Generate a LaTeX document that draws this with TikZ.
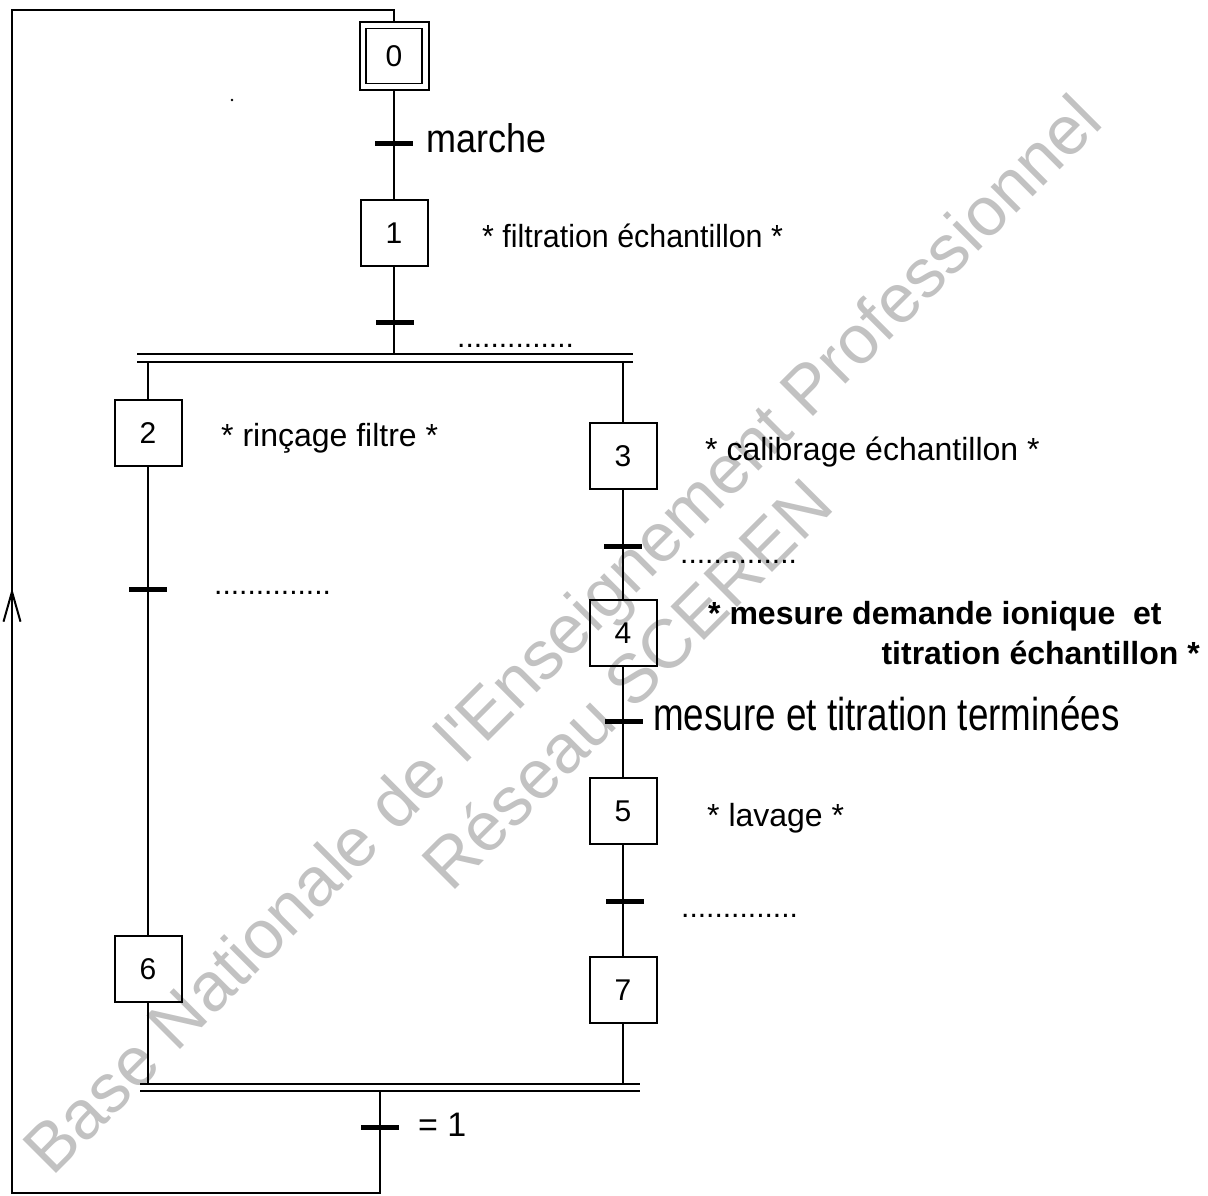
\documentclass[tikz,border=0pt]{standalone}
\usepackage{fontspec}
\setmainfont{Liberation Sans}
\newfontfamily\bigfont{Liberation Sans}[FakeStretch=0.8]
\newfontfamily\marfont{Liberation Sans}[FakeStretch=0.9]
\newfontfamily\slimfont{Liberation Sans}[FakeStretch=0.95]
\usetikzlibrary{arrows.meta}
\definecolor{wm}{gray}{0.76}
\begin{document}
\begin{tikzpicture}[x=1pt,y=-1pt,
  stepbox/.style={draw,line width=2pt,minimum width=67pt,minimum height=66pt,inner sep=0pt,font=\fontsize{30}{34}\selectfont},
  initout/.style={draw,line width=2pt,minimum width=69pt,minimum height=68pt,inner sep=0pt},
  initin/.style={draw,line width=1.8pt,minimum width=56pt,minimum height=55pt,inner sep=0pt,font=\fontsize{30}{34}\selectfont},
  trans/.style={fill=black,minimum width=38pt,minimum height=5pt,inner sep=0pt},
  link/.style={line width=2.2pt},
  dbar/.style={line width=2.4pt},
  loopline/.style={line width=2pt},
  act/.style={anchor=base west,inner sep=0pt,font=\fontsize{32}{38}\selectfont},
  actb/.style={anchor=base west,inner sep=0pt,font=\fontsize{32}{38}\selectfont\bfseries},
  dots/.style={anchor=base west,inner sep=0pt,font=\fontsize{30}{36}\selectfont},
  bigcond/.style={anchor=base west,inner sep=0pt,font=\fontsize{46}{52}\bigfont},
  marst/.style={anchor=base west,inner sep=0pt,font=\fontsize{40}{46}\marfont},
  eqst/.style={anchor=base west,inner sep=0pt,font=\fontsize{34}{40}\selectfont},
  wmark/.style={anchor=base,rotate=45,inner sep=0pt,text=wm,font=\fontsize{69}{80}\selectfont}
]
\useasboundingbox (0,0) rectangle (1208,1195);

% watermark
\node[wmark] (wm1) at (579,651) {Base Nationale de l\textquotesingle Enseignement Professionnel};
\node[wmark] (wm2) at (644,701) {Réseau SCEREN};

% steps
\node[initout] (s0) at (394,56) {};
\node[initin] (s0i) at (394,56) {0};
\node[stepbox] (s1) at (394,233) {1};
\node[stepbox] (s2) at (148,433) {2};
\node[stepbox] (s3) at (623,456) {3};
\node[stepbox] (s4) at (623,633) {4};
\node[stepbox] (s5) at (623,811) {5};
\node[stepbox] (s6) at (148,969) {6};
\node[stepbox] (s7) at (623,990) {7};

% divergence / convergence bars
\coordinate (dvA) at (137,354);
\coordinate (dvB) at (633,354);
\coordinate (dvC) at (137,362);
\coordinate (dvD) at (633,362);
\coordinate (cvA) at (140,1084);
\coordinate (cvB) at (640,1084);
\coordinate (cvC) at (140,1091);
\coordinate (cvD) at (640,1091);
\draw[dbar] (dvA) -- (dvB);
\draw[dbar] (dvC) -- (dvD);
\draw[dbar] (cvA) -- (cvB);
\draw[dbar] (cvC) -- (cvD);

% links
\draw[link] (s0.south) -- (s1.north);
\draw[link] (s1.south) -- (s1.south |- dvA);
\draw[link] (s2.north |- dvC) -- (s2.north);
\draw[link] (s3.north |- dvC) -- (s3.north);
\draw[link] (s2.south) -- (s6.north);
\draw[link] (s3.south) -- (s4.north);
\draw[link] (s4.south) -- (s5.north);
\draw[link] (s5.south) -- (s7.north);
\draw[link] (s6.south) -- (s6.south |- cvA);
\draw[link] (s7.south) -- (s7.south |- cvA);

% transitions
\node[trans] (t0) at (394,143) {};
\node[trans] (t1) at (395,322) {};
\node[trans] (t2) at (148,589) {};
\node[trans] (t3) at (623,546) {};
\node[trans] (t4) at (624,721) {};
\node[trans] (t5) at (625,901) {};
\node[trans] (t8) at (380,1127) {};

% loop back to step 0
\coordinate (out) at (380,1091);
\coordinate (cB) at (380,1193);
\coordinate (cL) at (12,1193);
\coordinate (cT) at (12,10);
\coordinate (cR) at (394,10);
\coordinate (arr) at (12,588);
\draw[loopline] (out) -- (cB) -- (cL) -- (cT) -- (cR) -- (s0.north);
\draw[loopline,-{Straight Barb[length=30pt,width=17pt]}] (cL) -- (arr);

% labels
\node[marst] (lm) at (426,152) {marche};
\node[act,font=\fontsize{32}{38}\slimfont] (a1) at (482,247) {* filtration échantillon *};
\node[dots] (d1) at (457,347) {..............};
\node[act] (a2) at (221,446) {* rinçage filtre *};
\node[dots] (d2) at (214,594) {..............};
\node[act] (a3) at (705,460) {* calibrage échantillon *};
\node[dots] (d3) at (680,563) {..............};
\node[actb] (a4a) at (708,624) {* mesure demande ionique\ \ et};
\node[actb,anchor=base east] (a4b) at (1200,664) {titration échantillon *};
\node[bigcond] (l4) at (653,730) {mesure et titration terminées};
\node[act] (a5) at (707,826) {* lavage *};
\node[dots] (d5) at (681,917) {..............};
\node[eqst] (l8) at (418,1136) {= 1};

% stray speck
\fill (232,100) circle (1.3pt);
\end{tikzpicture}
\end{document}
